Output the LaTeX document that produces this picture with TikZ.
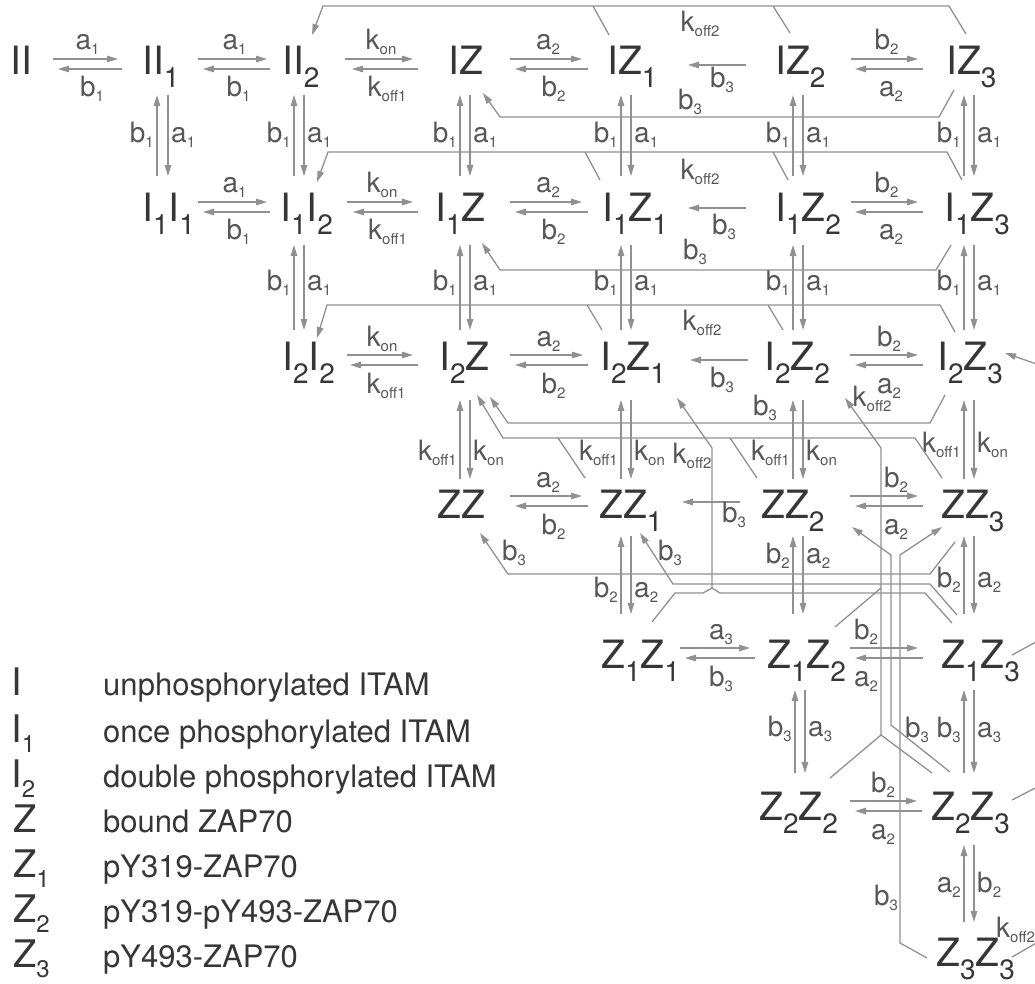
\documentclass[tikz,border=0pt]{standalone}
\usepackage{fontspec}
\setmainfont{TeX Gyre Heros}
\usetikzlibrary{arrows.meta}
\definecolor{spc}{HTML}{363636}
\definecolor{lbc}{HTML}{575757}
\definecolor{lnc}{HTML}{909090}
\newcommand\sd[1]{\raisebox{-13pt}{\fontsize{28}{28}\selectfont #1}}
\newcommand\ld[1]{\raisebox{-5pt}{\fontsize{15}{15}\selectfont #1}}
\newcommand\gd[1]{\raisebox{-10pt}{\fontsize{24}{24}\selectfont #1}}
\tikzset{
  spec/.style={font=\fontsize{39}{39}\selectfont, text=spc, inner sep=0pt, anchor=base west},
  lab/.style={font=\fontsize{28}{28}\selectfont, text=lbc, inner sep=0pt},
  arr/.style={draw=lnc, line width=1.3pt, -{Triangle[length=11pt,width=6.5pt]}},
  ln/.style={draw=lnc, line width=1.3pt},
  legs/.style={font=\fontsize{38}{38}\selectfont, text=spc, inner sep=0pt, anchor=base west},
  legt/.style={font=\fontsize{31}{31}\selectfont, text=spc, inner sep=0pt, anchor=base west},
}
% horizontal pair: y, top x1,x2 (->), bottom x3,x4 (<-), top label, bottom label
\newcommand\hp[7]{%
  \draw[arr] (#2,#1-5) -- (#3,#1-5);
  \draw[arr] (#5,#1+5) -- (#4,#1+5);
  \node[lab,anchor=base] at ({(#2+#3)/2+2},#1-14) {#6};
  \node[lab,anchor=base] at ({(#4+#5)/2+2},#1+33) {#7};
}
% horizontal pair with explicit label x
\newcommand\hpl[8]{%
  \draw[arr] (#2,#1-5) -- (#3,#1-5);
  \draw[arr] (#5,#1+5) -- (#4,#1+5);
  \node[lab,anchor=base] at (#6,#1-14) {#7};
  \node[lab,anchor=base] at (#6,#1+33) {#8};
}
% single left arrow: y, x1, x2, label x, label base, label
\newcommand\sa[6]{%
  \draw[arr] (#3,#1) -- (#2,#1);
  \node[lab,anchor=base] at (#4,#5) {#6};
}
% vertical pair: x up, x down, y top, y bottom, left label, right label, label base
\newcommand\vp[7]{%
  \draw[arr] (#1,#4) -- (#1,#3);
  \draw[arr] (#2,#3) -- (#2,#4);
  \node[lab,anchor=base east] at (#1-3,#7) {#5};
  \node[lab,anchor=base west] at (#2+3,#7) {#6};
}
\begin{document}
\begin{tikzpicture}[x=1pt,y=-1pt]
\useasboundingbox (0,0) rectangle (1035,984);
\clip (0,0) rectangle (1035,984);
% ---------- species ----------
\node[spec] (II)   at (10,75)  {II};
\node[spec] (II1)  at (142,75) {II\sd{1}};
\node[spec] (II2)  at (282,75) {II\sd{2}};
\node[spec] (IZ)   at (448,75) {IZ};
\node[spec] (IZ1)  at (607,75) {IZ\sd{1}};
\node[spec] (IZ2)  at (775,75) {IZ\sd{2}};
\node[spec] (IZ3)  at (946,75) {IZ\sd{3}};
\node[spec] (I1I1) at (142,222) {I\sd{1}I\sd{1}};
\node[spec] (I1I2) at (280,222) {I\sd{1}I\sd{2}};
\node[spec] (I1Z)  at (435,222) {I\sd{1}Z};
\node[spec] (I1Z1) at (602,222) {I\sd{1}Z\sd{1}};
\node[spec] (I1Z2) at (775,222) {I\sd{1}Z\sd{2}};
\node[spec] (I1Z3) at (944,222) {I\sd{1}Z\sd{3}};
\node[spec] (I2I2) at (282,370) {I\sd{2}I\sd{2}};
\node[spec] (I2Z)  at (439,370) {I\sd{2}Z};
\node[spec] (I2Z1) at (600,370) {I\sd{2}Z\sd{1}};
\node[spec] (I2Z2) at (764,370) {I\sd{2}Z\sd{2}};
\node[spec] (I2Z3) at (937,370) {I\sd{2}Z\sd{3}};
\node[spec] (ZZ)   at (437,518) {ZZ};
\node[spec] (ZZ1)  at (599,518) {ZZ\sd{1}};
\node[spec] (ZZ2)  at (761,518) {ZZ\sd{2}};
\node[spec] (ZZ3)  at (941,518) {ZZ\sd{3}};
\node[spec] (Z1Z1) at (601,668) {Z\sd{1}Z\sd{1}};
\node[spec] (Z1Z2) at (767,668) {Z\sd{1}Z\sd{2}};
\node[spec] (Z1Z3) at (941,668) {Z\sd{1}Z\sd{3}};
\node[spec] (Z2Z2) at (759,820) {Z\sd{2}Z\sd{2}};
\node[spec] (Z2Z3) at (931,820) {Z\sd{2}Z\sd{3}};
\node[spec] (Z3Z3) at (936,966) {Z\sd{3}Z\sd{3}};
% ---------- horizontal reactions ----------
\hp{64}{53}{118}{58}{122}{a\ld{1}}{b\ld{1}}
\hp{64}{198}{267}{203}{270}{a\ld{1}}{b\ld{1}}
\hp{64}{345}{413}{352}{418}{k\ld{on}}{k\ld{off1}}
\hp{64}{510}{582}{515}{588}{a\ld{2}}{b\ld{2}}
\sa{65}{688}{746}{722}{88}{b\ld{3}}
\hp{64}{851}{918}{855}{923}{b\ld{2}}{a\ld{2}}
\hp{207}{198}{267}{203}{270}{a\ld{1}}{b\ld{1}}
\hp{207}{347}{413}{353}{418}{k\ld{on}}{k\ld{off1}}
\hp{207}{510}{582}{515}{588}{a\ld{2}}{b\ld{2}}
\sa{208}{688}{746}{724}{235}{b\ld{3}}
\hp{207}{851}{918}{855}{923}{b\ld{2}}{a\ld{2}}
\hp{360}{347}{413}{350}{418}{k\ld{on}}{k\ld{off1}}
\hp{360}{510}{583}{515}{588}{a\ld{2}}{b\ld{2}}
\sa{360}{690}{748}{722}{387}{b\ld{3}}
\hpl{360}{850}{918}{855}{923}{889}{b\ld{2}}{a\ld{2}}
\hp{501}{510}{582}{515}{588}{a\ld{2}}{b\ld{2}}
\sa{502}{682}{740}{734}{522}{b\ld{3}}
\hpl{501}{850}{918}{855}{923}{896}{b\ld{2}}{a\ld{2}}
\hpl{653}{680}{750}{685}{755}{721}{a\ld{3}}{b\ld{3}}
\hpl{653}{850}{918}{855}{923}{866}{b\ld{2}}{a\ld{2}}
\hpl{806}{850}{917}{855}{922}{883}{b\ld{2}}{a\ld{2}}
% ---------- vertical reactions ----------
\vp{157}{168}{95}{176}{b\ld{1}}{a\ld{1}}{143}
\vp{294}{304}{95}{176}{b\ld{1}}{a\ld{1}}{143}
\vp{460}{470}{95}{176}{b\ld{1}}{a\ld{1}}{143}
\vp{621}{631}{95}{176}{b\ld{1}}{a\ld{1}}{143}
\vp{793}{803}{95}{176}{b\ld{1}}{a\ld{1}}{143}
\vp{964}{974}{95}{176}{b\ld{1}}{a\ld{1}}{143}
\vp{294}{304}{245}{330}{b\ld{1}}{a\ld{1}}{290}
\vp{460}{470}{245}{330}{b\ld{1}}{a\ld{1}}{290}
\vp{621}{631}{245}{330}{b\ld{1}}{a\ld{1}}{290}
\vp{793}{803}{245}{330}{b\ld{1}}{a\ld{1}}{290}
\vp{964}{974}{245}{330}{b\ld{1}}{a\ld{1}}{290}
\vp{460}{470}{400}{479}{k\ld{off1}}{k\ld{on}}{460}
\vp{621}{631}{400}{479}{k\ld{off1}}{k\ld{on}}{460}
\vp{793}{803}{400}{479}{k\ld{off1}}{k\ld{on}}{460}
\vp{964}{974}{400}{479}{k\ld{off1}}{k\ld{on}}{452}
\vp{621}{631}{536}{614}{b\ld{2}}{a\ld{2}}{597}
\vp{793}{803}{536}{614}{b\ld{2}}{a\ld{2}}{563}
\vp{964}{974}{536}{614}{b\ld{2}}{a\ld{2}}{587}
\vp{795}{805}{690}{773}{b\ld{3}}{a\ld{3}}{736}
\vp{964}{974}{690}{773}{b\ld{3}}{a\ld{3}}{737}
\vp{964}{974}{845}{922}{a\ld{2}}{b\ld{2}}{892}
% ---------- long connectors ----------
% k_off2, row 0
\draw[arr] (966,34) -- (949,6) -- (323,6) -- (312,35);
\draw[ln] (609,35) -- (593,6);
\draw[ln] (790,33) -- (773,6);
\node[lab,anchor=base] at (700,32) {k\ld{off2}};
% k_off2, row 1
\draw[arr] (962,180) -- (947,152) -- (328,152) -- (317,182);
\draw[ln] (600,180) -- (585,152);
\draw[ln] (788,180) -- (773,152);
\node[lab,anchor=base] at (700,180) {k\ld{off2}};
% k_off2, row 2
\draw[arr] (955,332) -- (940,305) -- (327,305) -- (317,338);
\draw[ln] (602,330) -- (587,305);
\draw[ln] (783,330) -- (768,305);
\node[lab,anchor=base] at (702,330) {k\ld{off2}};
% b_3 long, rows 0-2
\draw[arr] (954,90) -- (939,117) -- (500,117) -- (483,93);
\node[lab,anchor=base] at (690,110) {b\ld{3}};
\draw[arr] (951,245) -- (936,270) -- (500,270) -- (482,243);
\node[lab,anchor=base] at (695,259) {b\ld{3}};
\draw[arr] (945,395) -- (930,423) -- (508,423) -- (490,397);
\node[lab,anchor=base] at (765,415) {b\ld{3}};
% ZZ_i -> I_2Z
\draw[arr] (942,478) -- (915,438) -- (503,438) -- (477,395);
\draw[ln] (585,478) -- (558,438);
\draw[ln] (757,478) -- (730,438);
% Z_1Z_1, Z_1Z_3 -> I_2Z_1
\draw[ln] (652,622) -- (675,593) -- (703,593) -- (712,588) -- (720,593) -- (925,593) -- (952,623);
\draw[arr] (712,588) -- (712,448) -- (677,398);
\node[lab,anchor=base] at (692,463) {k\ld{off2}};
% ZZ_3 -> ZZ, Z_1Z_3 -> ZZ_1
\draw[arr] (955,542) -- (930,574) -- (508,574) -- (480,533);
\node[lab,anchor=base] at (514,560) {b\ld{3}};
\draw[arr] (957,615) -- (930,584) -- (673,584) -- (640,533);
\node[lab,anchor=base] at (670,560) {b\ld{3}};
% Z_xZ_y -> I_2Z_2
\draw[arr] (881,735) -- (881,448) -- (845,398);
\draw[ln] (830,778) -- (881,735) -- (932,773);
\draw[ln] (835,627) -- (881,588);
\node[lab,anchor=base] at (872,406) {k\ld{off2}};
% Z_2Z_3 -> ZZ_2
\draw[arr] (950,772) -- (891,725) -- (891,555) -- (852,527);
\node[lab,anchor=base] at (917,737) {b\ld{3}};
% Z_3Z_3 -> ZZ_3
\draw[arr] (927,958) -- (900,943) -- (900,555) -- (942,527);
\node[lab,anchor=base] at (886,905) {b\ld{3}};
% stubs at the right edge
\draw[arr] (1045,367) -- (1005,353);
\draw[ln] (1012,655) -- (1045,637);
\draw[ln] (1012,800) -- (1045,783);
\draw[ln] (1012,957) -- (1045,938);
\node[lab,anchor=base west] at (996,937) {k\ld{off2}};
% ---------- legend ----------
\node[legs] (LI)  at (11,695) {I};
\node[legs] (LI1) at (11,742) {I\gd{1}};
\node[legs] (LI2) at (11,787) {I\gd{2}};
\node[legs] (LZ)  at (13,832) {Z};
\node[legs] (LZ1) at (13,877) {Z\gd{1}};
\node[legs] (LZ2) at (13,922) {Z\gd{2}};
\node[legs] (LZ3) at (13,967) {Z\gd{3}};
\node[legt] at (103,695) {unphosphorylated ITAM};
\node[legt] at (103,742) {once phosphorylated ITAM};
\node[legt] at (103,787) {double phosphorylated ITAM};
\node[legt] at (103,832) {bound ZAP70};
\node[legt] at (103,877) {pY319-ZAP70};
\node[legt] at (103,922) {pY319-pY493-ZAP70};
\node[legt] at (103,967) {pY493-ZAP70};
\end{tikzpicture}
\end{document}
